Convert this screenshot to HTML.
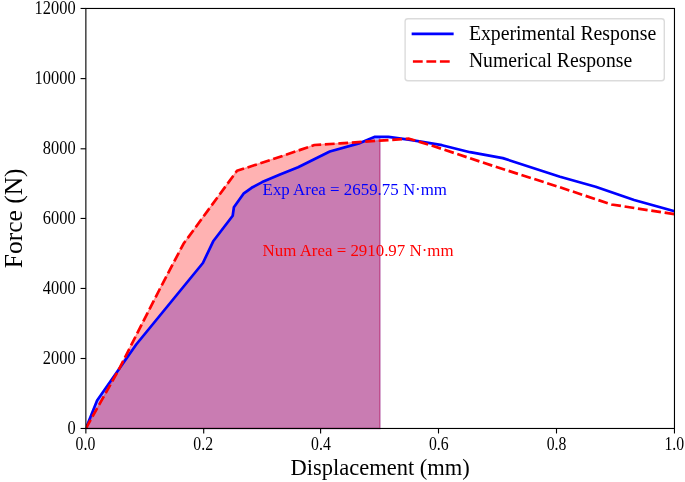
<!DOCTYPE html>
<html><head><meta charset="utf-8"><title>Force-Displacement</title>
<style>
html,body{margin:0;padding:0;background:#fff;}
body{width:685px;height:482px;overflow:hidden;font-family:"Liberation Serif",serif;}
svg{display:block;will-change:transform;}
text{font-family:"Liberation Serif",serif;fill:#000;}
.tk{font-size:16.67px;}
</style></head><body>
<svg width="685" height="482" viewBox="0 0 685 482">
<rect x="0" y="0" width="685" height="482" fill="#fff"/>
<defs><clipPath id="ax"><rect x="85.87" y="8.47" width="588.60" height="420.00"/></clipPath></defs>
<polygon points="85.87,428.47 97.10,400.40 136.20,344.50 202.90,263.00 213.20,241.30 232.70,215.70 233.90,207.30 243.50,193.70 251.60,187.80 262.20,182.10 280.00,174.50 298.10,167.30 329.80,151.50 359.90,143.10 374.40,136.90 379.92,136.90 379.92,428.47 85.87,428.47" fill="#0000ff" fill-opacity="0.3" stroke="#0000ff" stroke-opacity="0.3" stroke-width="1.39" stroke-linejoin="miter"/>
<polygon points="85.87,428.47 118.10,370.90 159.30,290.00 183.50,243.80 237.00,170.80 270.00,160.20 314.40,145.00 340.10,143.40 379.80,140.60 379.92,140.59 379.92,428.47 85.87,428.47" fill="#ff0000" fill-opacity="0.3" stroke="#ff0000" stroke-opacity="0.3" stroke-width="1.39" stroke-linejoin="miter"/>
<polyline clip-path="url(#ax)" points="85.87,428.47 97.10,400.40 136.20,344.50 202.90,263.00 213.20,241.30 232.70,215.70 233.90,207.30 243.50,193.70 251.60,187.80 262.20,182.10 280.00,174.50 298.10,167.30 329.80,151.50 359.90,143.10 374.40,136.90 388.40,136.90 410.20,139.90 442.00,145.20 470.10,152.20 502.80,158.10 560.00,176.80 595.60,186.80 634.10,200.00 674.47,211.30" fill="none" stroke="#0000ff" stroke-width="2.7" stroke-linejoin="round" stroke-linecap="square"/>
<polyline clip-path="url(#ax)" points="85.87,428.47 118.10,370.90 159.30,290.00 183.50,243.80 237.00,170.80 270.00,160.20 314.40,145.00 340.10,143.40 379.80,140.60 409.00,138.70 430.00,145.00 493.40,166.00 560.00,187.30 611.50,204.50 674.47,214.20" fill="none" stroke="#ff0000" stroke-width="2.7" stroke-linejoin="round" stroke-dasharray="9.8 3.7"/>
<rect x="85.87" y="8.47" width="588.60" height="420.00" fill="none" stroke="#000" stroke-width="1.11"/>
<line x1="85.87" y1="428.47" x2="85.87" y2="433.47" stroke="#000" stroke-width="1.11"/><text transform="translate(85.40,450.00) scale(0.8529,1)" font-size="18.50" text-anchor="middle">0.0</text>
<line x1="203.70" y1="428.47" x2="203.70" y2="433.47" stroke="#000" stroke-width="1.11"/><text transform="translate(203.18,450.00) scale(0.8529,1)" font-size="18.50" text-anchor="middle">0.2</text>
<line x1="320.60" y1="428.47" x2="320.60" y2="433.47" stroke="#000" stroke-width="1.11"/><text transform="translate(320.96,450.00) scale(0.8529,1)" font-size="18.50" text-anchor="middle">0.4</text>
<line x1="438.50" y1="428.47" x2="438.50" y2="433.47" stroke="#000" stroke-width="1.11"/><text transform="translate(438.74,450.00) scale(0.8529,1)" font-size="18.50" text-anchor="middle">0.6</text>
<line x1="556.50" y1="428.47" x2="556.50" y2="433.47" stroke="#000" stroke-width="1.11"/><text transform="translate(556.52,450.00) scale(0.8529,1)" font-size="18.50" text-anchor="middle">0.8</text>
<line x1="674.47" y1="428.47" x2="674.47" y2="433.47" stroke="#000" stroke-width="1.11"/><text transform="translate(674.30,450.00) scale(0.8529,1)" font-size="18.50" text-anchor="middle">1.0</text>
<line x1="80.57" y1="428.47" x2="85.87" y2="428.47" stroke="#000" stroke-width="1.11"/><text transform="translate(75.60,433.87) scale(0.8884,1)" font-size="18.50" text-anchor="end">0</text>
<line x1="80.57" y1="358.50" x2="85.87" y2="358.50" stroke="#000" stroke-width="1.11"/><text transform="translate(75.60,363.90) scale(0.8884,1)" font-size="18.50" text-anchor="end">2000</text>
<line x1="80.57" y1="288.45" x2="85.87" y2="288.45" stroke="#000" stroke-width="1.11"/><text transform="translate(75.60,293.85) scale(0.8884,1)" font-size="18.50" text-anchor="end">4000</text>
<line x1="80.57" y1="218.45" x2="85.87" y2="218.45" stroke="#000" stroke-width="1.11"/><text transform="translate(75.60,223.85) scale(0.8884,1)" font-size="18.50" text-anchor="end">6000</text>
<line x1="80.57" y1="148.80" x2="85.87" y2="148.80" stroke="#000" stroke-width="1.11"/><text transform="translate(75.60,154.20) scale(0.8884,1)" font-size="18.50" text-anchor="end">8000</text>
<line x1="80.57" y1="78.60" x2="85.87" y2="78.60" stroke="#000" stroke-width="1.11"/><text transform="translate(75.60,84.00) scale(0.8884,1)" font-size="18.50" text-anchor="end">10000</text>
<line x1="80.57" y1="8.47" x2="85.87" y2="8.47" stroke="#000" stroke-width="1.11"/><text transform="translate(75.60,13.87) scale(0.8884,1)" font-size="18.50" text-anchor="end">12000</text>
<text transform="translate(380.15,475.30) scale(0.9786,1)" font-size="23.00" text-anchor="middle">Displacement (mm)</text>
<text transform="translate(21.90,218.35) rotate(-90) scale(0.9889,1)" font-size="25.80" text-anchor="middle">Force (N)</text>
<text transform="translate(262.60,194.70) scale(0.9820,1)" font-size="17.20" text-anchor="start" style="fill:#0000ff">Exp Area = 2659.75 N·mm</text>
<text transform="translate(262.60,255.60) scale(0.9820,1)" font-size="17.20" text-anchor="start" style="fill:#ff0000">Num Area = 2910.97 N·mm</text>
<rect x="405.1" y="18.7" width="259.2" height="62.1" rx="2.8" ry="2.8" fill="#fff" fill-opacity="0.8" stroke="#cccccc" stroke-opacity="0.7" stroke-width="1.39"/>
<line x1="413.0" y1="33.9" x2="452.3" y2="33.9" stroke="#0000ff" stroke-width="2.7" stroke-linecap="square"/>
<line x1="412.9" y1="61.5" x2="451.8" y2="61.5" stroke="#ff0000" stroke-width="2.7" stroke-dasharray="9.8 3.7"/>
<text transform="translate(468.90,39.70) scale(0.9841,1)" font-size="20.10" text-anchor="start">Experimental Response</text>
<text transform="translate(468.90,67.40) scale(0.9788,1)" font-size="20.10" text-anchor="start">Numerical Response</text>
</svg></body></html>
